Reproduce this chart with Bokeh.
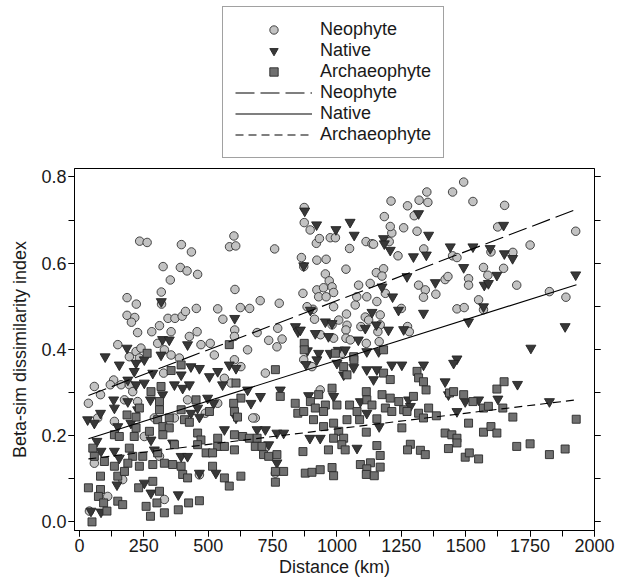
import numpy as np
from bokeh.plotting import figure
from bokeh.layouts import column
from bokeh.models import (Range1d, LinearAxis, SingleIntervalTicker,
                          PrintfTickFormatter, CustomJSTickFormatter, Legend, LegendItem)
from bokeh.embed import file_html
from bokeh.resources import INLINE

# ---- data: (distance km, beta-sim dissimilarity) ----
neophyte = [
    (234,0.651),(263,0.648),(396,0.643),(435,0.626),(325,0.592),(353,0.561),(392,0.590),
    (418,0.582),(459,0.574),(600,0.663),(583,0.638),(607,0.640),(758,0.633),(604,0.539),
    (185,0.520),(221,0.505),(318,0.533),(319,0.505),(185,0.479),(215,0.474),(202,0.463),
    (311,0.455),(344,0.472),(371,0.472),(399,0.477),(412,0.488),(454,0.495),(537,0.494),
    (557,0.470),(625,0.497),(661,0.495),(702,0.513),(776,0.507),(690,0.439),(735,0.421),
    (767,0.406),(787,0.424),(862,0.613),(871,0.592),(873,0.729),(873,0.694),(896,0.677),
    (920,0.646),(922,0.607),(868,0.530),(922,0.538),(907,0.493),(913,0.470),(603,0.445),
    (932,0.657),(974,0.659),(994,0.659),(958,0.609),(1049,0.634),(955,0.575),(970,0.559),
    (948,0.543),(981,0.545),(987,0.532),(929,0.522),(958,0.522),(987,0.499),(884,0.499),
    (981,0.457),(1035,0.586),(1037,0.482),(1007,0.468),(1039,0.456),(1035,0.445),(1035,0.426),
    (1052,0.422),(1023,0.395),(987,0.426),(936,0.434),(1071,0.503),(1077,0.522),(1084,0.549),
    (1116,0.522),(1129,0.553),(1155,0.511),(1110,0.475),(1168,0.480),(1168,0.457),(1159,0.441),
    (1164,0.418),(1114,0.414),(1123,0.468),(1093,0.453),(1153,0.578),(1181,0.587),(1175,0.570),
    (1188,0.530),(1113,0.650),(1136,0.645),(1142,0.644),(1203,0.650),(1213,0.670),(1207,0.685),
    (1184,0.708),(1210,0.744),(1274,0.733),(1300,0.710),(1319,0.746),(1349,0.765),(1353,0.741),
    (1259,0.682),(1311,0.674),(1237,0.617),(1337,0.633),(1317,0.549),(1343,0.538),(1336,0.521),
    (1384,0.528),(1274,0.453),(1281,0.441),(1250,0.495),(1420,0.562),(1431,0.569),(1449,0.765),
    (1492,0.788),(1528,0.743),(1651,0.734),(1449,0.617),(1466,0.613),(1466,0.494),(1494,0.497),
    (1511,0.564),(1511,0.549),(1569,0.590),(1586,0.572),(1647,0.588),(1624,0.684),(1598,0.626),
    (1683,0.625),(1750,0.642),(1550,0.515),(1569,0.492),(1698,0.549),(1825,0.534),(1889,0.521),
    (1927,0.674),(770,0.449),(489,0.252),
    (722,0.345),(683,0.241),(761,0.113),(871,0.376),(903,0.360),(1019,0.391),(935,0.306),
    (226,0.439),(281,0.441),(356,0.441),(427,0.430),(457,0.441),(602,0.430),(149,0.411),
    (194,0.383),(220,0.395),(239,0.403),(233,0.380),(304,0.414),(330,0.399),(356,0.387),
    (388,0.380),(472,0.411),(508,0.414),(524,0.387),(602,0.376),(627,0.360),(653,0.399),
    (327,0.345),(133,0.329),(120,0.318),(162,0.318),(194,0.318),(207,0.302),(175,0.283),
    (226,0.279),(58,0.314),(82,0.295),(35,0.275),(420,0.283),(537,0.275),(563,0.333),
    (589,0.322),(136,0.233),(71,0.241),(291,0.241),(369,0.241),(673,0.241),(252,0.198),
    (58,0.136),(466,0.109),(311,0.152),(168,0.098),(110,0.059),(330,0.052),(39,0.025),
]

native = [
    (875,0.721),(921,0.689),(871,0.594),(318,0.511),(603,0.472),(897,0.491),(839,0.453),
    (849,0.441),(916,0.437),
    (1051,0.695),(996,0.678),(1067,0.665),(1181,0.657),(1184,0.645),(1317,0.715),(1356,0.665),
    (1207,0.630),(1297,0.615),(1347,0.619),(1440,0.638),(1528,0.638),(1595,0.634),(1647,0.688),
    (1650,0.622),(1682,0.611),(1272,0.569),(1382,0.555),(1492,0.590),(1572,0.549),(1588,0.553),
    (1621,0.572),(1175,0.545),(1216,0.522),(955,0.464),(981,0.460),(1136,0.486),(1153,0.457),
    (1110,0.449),(1200,0.445),(1239,0.491),(1259,0.446),(1336,0.484),(1511,0.464),(1569,0.499),
    (858,0.445),(967,0.430),(1083,0.422),(1116,0.395),(1162,0.395),(1886,0.453),(1927,0.573),
    (1753,0.403),(1466,0.378),(929,0.391),(974,0.391),(885,0.397),(1005,0.398),
    (922,0.376),(880,0.365),(1032,0.399),(1000,0.368),(1065,0.358),(521,0.275),
    (703,0.291),(780,0.306),(690,0.214),(722,0.214),(767,0.206),(793,0.206),(735,0.179),
    (767,0.137),(890,0.293),(895,0.194),
    (987,0.291),(1026,0.341),(1116,0.353),(1155,0.353),(1213,0.364),(1252,0.364),(1336,0.364),
    (1142,0.330),(1453,0.368),(1420,0.325),(1433,0.295),(1498,0.279),(1550,0.283),(1625,0.285),
    (1701,0.319),(1825,0.279),(1091,0.279),(1116,0.252),(1278,0.283),(1285,0.268),(1466,0.256),
    (1164,0.221),(1078,0.171),(935,0.194),
    (100,0.383),(185,0.403),(323,0.423),(349,0.422),(420,0.411),(155,0.364),(220,0.368),
    (252,0.376),(317,0.387),(213,0.349),(285,0.345),(395,0.341),(433,0.360),(466,0.356),
    (505,0.337),(537,0.349),(582,0.364),(608,0.356),(188,0.329),(220,0.318),(252,0.322),
    (369,0.318),(401,0.310),(427,0.318),(556,0.318),(653,0.306),(133,0.283),(136,0.264),
    (188,0.279),(276,0.283),(323,0.295),(498,0.287),(459,0.264),(433,0.252),(466,0.243),
    (608,0.241),(666,0.275),(32,0.237),(58,0.229),(82,0.252),(149,0.221),(226,0.260),
    (200,0.229),(278,0.190),(68,0.187),(84,0.164),(136,0.164),(155,0.148),(291,0.167),
    (362,0.183),(395,0.152),(420,0.152),(563,0.214),(146,0.086),(252,0.090),(278,0.067),
    (384,0.063),(466,0.113),(530,0.113),(45,0.025),(84,0.023),
]

archaeophyte = [
    (582,0.411),(263,0.391),(395,0.364),(356,0.351),(608,0.322),(278,0.302),(317,0.314),
    (453,0.283),(311,0.279),(627,0.287),(599,0.275),(233,0.264),(311,0.260),(395,0.260),
    (505,0.256),(602,0.256),(185,0.248),(220,0.243),(304,0.237),(349,0.241),(408,0.237),
    (427,0.231),(614,0.243),(324,0.221),(349,0.218),(272,0.210),(213,0.198),(136,0.202),
    (155,0.198),(220,0.218),(324,0.202),(459,0.206),(472,0.190),(537,0.194),(602,0.202),
    (634,0.198),(660,0.194),(369,0.179),(459,0.179),(537,0.175),(563,0.175),(602,0.167),
    (52,0.171),(58,0.152),(97,0.140),(194,0.171),(207,0.152),(246,0.152),(304,0.160),
    (492,0.160),(517,0.160),(136,0.129),(188,0.136),(233,0.129),(285,0.133),(330,0.136),
    (362,0.133),(395,0.129),(401,0.110),(420,0.102),(517,0.129),(563,0.102),(582,0.083),
    (627,0.106),(149,0.106),(175,0.117),(82,0.106),(35,0.079),(82,0.075),(74,0.059),
    (94,0.044),(107,0.025),(49,0.000),(149,0.048),(168,0.040),(230,0.079),(285,0.094),
    (311,0.071),(259,0.036),(276,0.013),(301,0.044),(330,0.021),(384,0.028),(424,0.044),
    (466,0.049),
    (690,0.194),(683,0.175),(709,0.175),(715,0.156),(735,0.152),(767,0.156),(761,0.353),
    (780,0.291),(838,0.275),(848,0.252),(871,0.256),(868,0.163),(761,0.117),(793,0.117),
    (761,0.092),(873,0.414),(873,0.399),(1181,0.399),(1065,0.383),
    (994,0.391),(1066,0.376),(1026,0.360),(1039,0.341),(1181,0.345),(1207,0.330),(1311,0.349),
    (1317,0.334),(1336,0.325),(1346,0.306),(981,0.310),(929,0.295),(897,0.279),(916,0.264),
    (955,0.271),(948,0.256),(909,0.237),(948,0.221),(987,0.229),(1007,0.210),(987,0.194),
    (1026,0.194),(1019,0.179),(1032,0.167),(967,0.167),(1000,0.271),(1039,0.237),(1049,0.271),
    (1078,0.256),(1088,0.237),(1114,0.302),(1116,0.283),(1136,0.271),(1175,0.295),(1188,0.264),
    (1207,0.287),(1213,0.256),(1240,0.279),(1259,0.260),(1272,0.256),(1297,0.291),(1317,0.252),
    (1336,0.241),(1356,0.264),(1386,0.246),(1437,0.299),(1453,0.302),(1492,0.295),(1528,0.279),
    (1511,0.229),(1569,0.264),(1588,0.268),(1621,0.308),(1649,0.325),(1644,0.264),(1683,0.243),
    (1929,0.238),(1114,0.208),(1155,0.239),(1252,0.218),(1420,0.206),(1446,0.202),(1466,0.194),
    (1466,0.183),(1433,0.170),(1569,0.208),(1598,0.221),(1621,0.206),(1698,0.175),(1750,0.181),
    (1825,0.156),(1886,0.169),(1498,0.150),(1514,0.160),(1550,0.146),(1285,0.180),(1274,0.167),
    (1324,0.166),(1343,0.156),(1155,0.177),(1168,0.154),(1168,0.127),(1091,0.133),(1130,0.137),
    (1116,0.123),(1114,0.110),(1145,0.107),(877,0.113),(903,0.115),(935,0.121),(981,0.126),
    (987,0.107),
]

# regression lines: (intercept, slope per km), over the data's distance span
fit_span = [35, 1930]
neophyte_fit = (0.285, 0.000228)
native_fit = (0.186, 0.0001886)
archaeophyte_fit = (0.1435, 0.0000723)

x_ticks_interval = 250
y_ticks_interval = 0.2
series_labels = ["Neophyte", "Native", "Archaeophyte"]

FONT = "Liberation Sans"
W = 626
LEG_H = 166          # strip that carries the legend, above the plot
MAIN_H = 579 - LEG_H

# styles
NEO = dict(marker="circle", size=8.5, fill_color="#c2c2c2", line_color="#333333", line_width=0.9)
NAT = dict(marker="inverted_triangle", size=10, fill_color="#383838", line_color="#222222", line_width=0.9)
ARC = dict(marker="square", size=8, fill_color="#707070", line_color="#2a2a2a", line_width=0.9)
LNEO = dict(line_color="black", line_width=1.1, line_dash="19 6")
LNAT = dict(line_color="black", line_width=1.1)
LARC = dict(line_color="black", line_width=1.1, line_dash="8 5")

p = figure(width=W, height=MAIN_H, output_backend="svg", toolbar_location=None,
           title=None, x_range=Range1d(-19, 2000), y_range=Range1d(-0.020, 0.8195),
           min_border_left=74, min_border_right=32, min_border_top=2,
           min_border_bottom=48)
p.xgrid.visible = False
p.ygrid.visible = False
p.outline_line_color = "black"
p.outline_line_width = 1
p.background_fill_color = "white"
p.border_fill_color = "white"

def xy(data):
    a = np.array(data, dtype=float)
    return a[:, 0], a[:, 1]

nx, ny = xy(neophyte)
vx, vy = xy(native)
ax_, ay = xy(archaeophyte)

p.scatter(nx, ny, **NEO)
p.scatter(vx, vy, **NAT)
p.scatter(ax_, ay, **ARC)

fx = np.array(fit_span, dtype=float)
p.line(fx, neophyte_fit[0] + neophyte_fit[1] * fx, **LNEO)
p.line(fx, native_fit[0] + native_fit[1] * fx, **LNAT)
p.line(fx, archaeophyte_fit[0] + archaeophyte_fit[1] * fx, **LARC)

def style_axis(ax):
    ax.axis_line_color = "black"
    ax.major_tick_line_color = "black"
    ax.minor_tick_line_color = "black"
    ax.major_tick_in = 0
    ax.major_tick_out = 6
    ax.minor_tick_in = 0
    ax.minor_tick_out = 6
    ax.major_label_text_font = FONT
    ax.major_label_text_font_size = "18px"
    ax.major_label_text_color = "#1a1a1a"
    ax.major_label_standoff = 2
    ax.axis_label_text_font = FONT
    ax.axis_label_text_font_size = "18px"
    ax.axis_label_text_font_style = "normal"
    ax.axis_label_text_color = "#1a1a1a"

p.xaxis.ticker = SingleIntervalTicker(interval=x_ticks_interval, num_minor_ticks=2)
p.yaxis.ticker = SingleIntervalTicker(interval=y_ticks_interval, num_minor_ticks=2)
p.yaxis.formatter = PrintfTickFormatter(format="%.1f")
p.xaxis.axis_label = "Distance (km)"
p.yaxis.axis_label = "Beta-sim dissimilarity index"
for a in p.xaxis + p.yaxis:
    style_axis(a)
p.xaxis.axis_label_standoff = 2
p.yaxis.axis_label_standoff = 8

right = LinearAxis(ticker=SingleIntervalTicker(interval=y_ticks_interval, num_minor_ticks=2),
                   formatter=CustomJSTickFormatter(code="return ''"))
style_axis(right)
right.major_label_standoff = 0
p.add_layout(right, "right")

# ---- legend strip above the plot ----
lf = figure(width=W, height=LEG_H, output_backend="svg", toolbar_location=None,
            title=None, x_range=Range1d(0, 1), y_range=Range1d(0, 1),
            x_axis_type=None, y_axis_type=None,
            min_border_left=0, min_border_right=0, min_border_top=0, min_border_bottom=0)
lf.xgrid.visible = False
lf.ygrid.visible = False
lf.outline_line_color = None
lf.background_fill_color = "white"
lf.border_fill_color = "white"

# legend-only proxies, placed outside this strip's visible range
px_, py_ = [-5.0, -4.0], [-5.0, -5.0]
g_neo = lf.scatter(px_, py_, **NEO)
g_nat = lf.scatter(px_, py_, **NAT)
g_arc = lf.scatter(px_, py_, **ARC)
g_lneo = lf.line(px_, py_, **LNEO)
g_lnat = lf.line(px_, py_, **LNAT)
g_larc = lf.line(px_, py_, **LARC)

legend = Legend(items=[
    LegendItem(label=series_labels[0], renderers=[g_neo]),
    LegendItem(label=series_labels[1], renderers=[g_nat]),
    LegendItem(label=series_labels[2], renderers=[g_arc]),
    LegendItem(label=series_labels[0], renderers=[g_lneo]),
    LegendItem(label=series_labels[1], renderers=[g_lnat]),
    LegendItem(label=series_labels[2], renderers=[g_larc]),
], orientation="vertical", location=(148, 8))
legend.glyph_width = 77
legend.glyph_height = 21
legend.label_height = 21
legend.spacing = 0
legend.padding = 12
legend.margin = 0
legend.label_standoff = 8
legend.label_text_font = FONT
legend.label_text_font_size = "18px"
legend.label_text_color = "#1a1a1a"
legend.border_line_color = "#444444"
legend.border_line_width = 1
legend.background_fill_color = "white"
lf.add_layout(legend, "center")

layout = column(lf, p, spacing=0)
open("out.html", "w").write(file_html(layout, INLINE))
